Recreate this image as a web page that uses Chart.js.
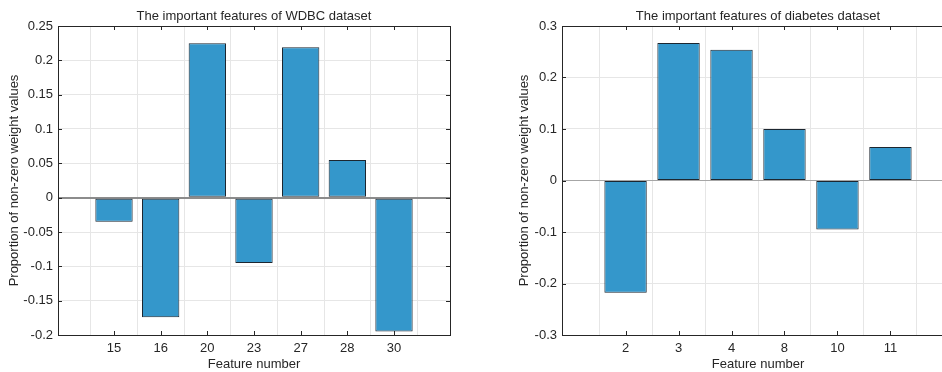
<!DOCTYPE html>
<html>
<head>
<meta charset="utf-8">
<script src="https://cdn.jsdelivr.net/npm/chart.js@4.4.1/dist/chart.umd.min.js"></script>
<style>
    html, body { margin: 0; padding: 0; background: #fff; overflow: hidden; width: 942px; height: 372px; }
    canvas { position: absolute; top: 0; }
    #wdbcChart { left: 0; }
    #diabetesChart { left: 470px; }
</style>
</head>
<body>
<canvas id="wdbcChart" width="470" height="372"></canvas>
<canvas id="diabetesChart" width="504" height="372"></canvas>
<script>
// WDBC dataset
const wdbcFeatures = ['15', '16', '20', '23', '27', '28', '30'];
const wdbcWeights = [-0.035, -0.174, 0.225, -0.095, 0.219, 0.055, -0.195];
const wdbcYTicks = [-0.2, -0.15, -0.1, -0.05, 0, 0.05, 0.1, 0.15, 0.2, 0.25];

// diabetes dataset
const diabetesFeatures = ['2', '3', '4', '8', '10', '11'];
const diabetesWeights = [-0.218, 0.267, 0.254, 0.1, -0.095, 0.065];
const diabetesYTicks = [-0.3, -0.2, -0.1, 0, 0.1, 0.2, 0.3];

const textColor = '#262626';
const fontFamily = "'Liberation Sans', Arial, Helvetica, sans-serif";

// matlab style box with inward tick marks
const boxPlugin = {
    id: 'matlabBox',
    afterDraw(chart) {
        const { ctx, chartArea: a, scales } = chart;
        ctx.save();
        ctx.strokeStyle = textColor;
        ctx.lineWidth = 1;
        ctx.strokeRect(Math.round(a.left) + 0.5, Math.round(a.top) + 0.5,
            Math.round(a.right - a.left), Math.round(a.bottom - a.top));
        ctx.beginPath();
        scales.x.ticks.forEach(t => {
            const px = Math.round(scales.x.getPixelForValue(t.value)) + 0.5;
            ctx.moveTo(px, a.bottom); ctx.lineTo(px, a.bottom - 4);
            ctx.moveTo(px, a.top); ctx.lineTo(px, a.top + 4);
        });
        scales.y.ticks.forEach(t => {
            const py = Math.round(scales.y.getPixelForValue(t.value)) + 0.5;
            ctx.moveTo(a.left, py); ctx.lineTo(a.left + 4, py);
            ctx.moveTo(a.right, py); ctx.lineTo(a.right - 4, py);
        });
        ctx.stroke();
        ctx.restore();
    }
};

function makeChart(id, title, features, weights, yTicks, yAxisWidth, yTitlePad, zeroColor, zeroWidth) {
    return new Chart(document.getElementById(id), {
        type: 'bar',
        data: {
            datasets: [{
                data: weights.map((w, i) => ({ x: i + 1, y: w })),
                backgroundColor: '#3497cb',
                borderColor: '#1c2630',
                borderWidth: 1,
                borderSkipped: false,
                categoryPercentage: 1,
                barPercentage: 0.8
            }]
        },
        options: {
            responsive: false,
            animation: false,
            layout: { padding: { left: 0, right: 20, top: 0, bottom: 0 } },
            plugins: {
                legend: { display: false },
                tooltip: { enabled: false },
                title: {
                    display: true,
                    text: title,
                    fullSize: false,
                    color: textColor,
                    font: { family: fontFamily, size: 13, weight: 'normal', lineHeight: 1.2 },
                    padding: { top: 9, bottom: 1.4 }
                }
            },
            scales: {
                x: {
                    type: 'linear',
                    offset: false,
                    min: -0.2,
                    max: features.length + 1.2,
                    afterBuildTicks: s => { s.ticks = features.map((f, i) => ({ value: i + 1 })); },
                    afterFit: s => { s.height = 37; },
                    grid: { color: '#e6e6e6', drawTicks: false },
                    border: { display: false },
                    ticks: {
                        color: textColor,
                        padding: 6,
                        maxRotation: 0,
                        autoSkip: false,
                        font: { family: fontFamily, size: 13 },
                        callback: v => features[v - 1]
                    },
                    title: {
                        display: true,
                        text: 'Feature number',
                        color: textColor,
                        font: { family: fontFamily, size: 13 },
                        padding: { top: 0, bottom: 0 }
                    }
                },
                y: {
                    min: yTicks[0],
                    max: yTicks[yTicks.length - 1],
                    afterBuildTicks: s => { s.ticks = yTicks.map(v => ({ value: v })); },
                    afterFit: s => { s.width = yAxisWidth; },
                    grid: {
                        drawTicks: false,
                        color: c => c.tick && c.tick.value === 0 ? zeroColor : '#e6e6e6',
                        lineWidth: c => c.tick && c.tick.value === 0 ? zeroWidth : 1
                    },
                    border: { display: false },
                    ticks: {
                        color: textColor,
                        padding: 5,
                        font: { family: fontFamily, size: 13 },
                        callback: v => String(parseFloat(v.toFixed(2)))
                    },
                    title: {
                        display: true,
                        text: 'Proportion of non-zero weight values',
                        color: textColor,
                        font: { family: fontFamily, size: 13 },
                        padding: { top: yTitlePad, bottom: 0 }
                    }
                }
            }
        },
        plugins: [boxPlugin]
    });
}

makeChart('wdbcChart', 'The important features of WDBC dataset',
    wdbcFeatures, wdbcWeights, wdbcYTicks, 58, 7, '#8c8c8c', 2);
makeChart('diabetesChart', 'The important features of diabetes dataset',
    diabetesFeatures, diabetesWeights, diabetesYTicks, 92, 47, '#a6a6a6', 1);
</script>
</body>
</html>
